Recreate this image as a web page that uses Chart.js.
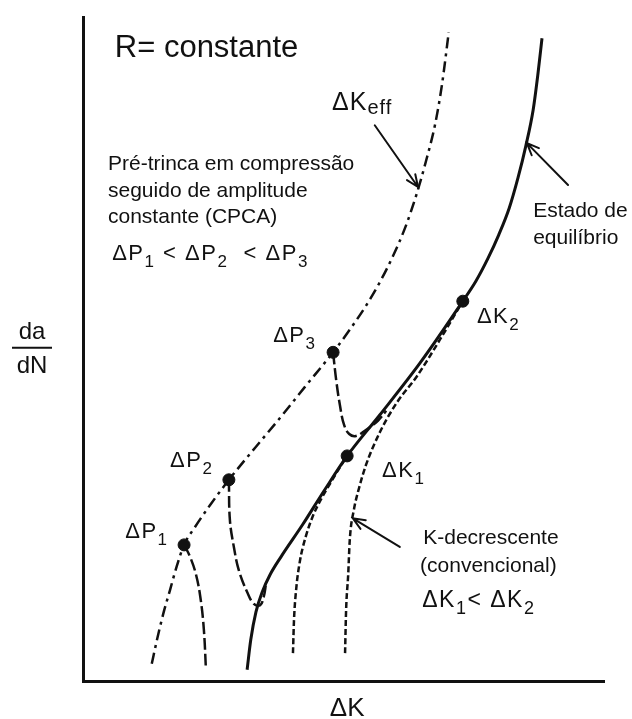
<!DOCTYPE html>
<html>
<head>
<meta charset="utf-8">
<title>da/dN x ΔK</title>
<script src="https://cdn.jsdelivr.net/npm/chart.js@4.4.1/dist/chart.umd.min.js"></script>
<style>
  html, body { margin: 0; padding: 0; background: #fff; }
  #wrap { width: 632px; height: 719px; }
</style>
</head>
<body>
<div id="wrap"><canvas id="crackChart" width="632" height="719"></canvas></div>
<script>
// Curves in schematic units: ΔK and da/dN both run 0..100
const equilibrium = [
  [31.5, 1.7], [32.2, 6.2], [33.2, 10.4], [34.4, 13.4], [35.9, 16.0], [38.0, 18.7],
  [42.2, 23.6], [46.4, 28.8], [50.7, 33.9], [57.0, 40.1], [64.7, 47.9], [72.9, 57.2],
  [75.4, 60.2], [77.7, 63.6], [79.8, 67.2], [81.8, 71.2], [83.5, 75.8], [85.0, 80.6],
  [86.4, 86.0], [87.3, 91.3], [88.1, 96.8]
];
const effective = [
  [13.2, 2.6], [14.2, 6.2], [15.4, 10.1], [16.7, 13.7], [18.0, 17.3], [19.4, 20.5],
  [21.5, 23.2], [24.4, 26.5], [28.0, 30.3], [33.0, 35.1], [37.8, 39.6], [42.6, 44.3],
  [48.0, 49.5], [51.2, 52.9], [54.3, 56.5], [57.0, 60.1], [59.5, 64.0], [61.8, 68.2],
  [63.9, 73.0], [65.8, 78.2], [67.6, 83.9], [68.9, 89.8], [70.2, 97.7]
];
const cpca1 = [[19.4, 20.5], [20.5, 18.8], [21.7, 16.0], [22.6, 12.2], [23.2, 7.7], [23.6, 1.7]];
const cpca2 = [
  [28.0, 30.3], [28.2, 24.2], [29.0, 20.0], [29.9, 16.7], [31.5, 13.4],
  [32.8, 11.6], [34.0, 11.4], [34.7, 12.7], [35.1, 14.5]
];
const cpca3 = [
  [48.0, 49.5], [48.6, 45.3], [49.3, 41.6], [50.1, 38.6], [51.1, 37.2],
  [52.4, 36.9], [54.1, 37.7], [56.6, 39.2], [58.2, 40.7]
];
const kDecreasing1 = [
  [40.3, 4.2], [40.5, 9.2], [40.9, 13.7], [41.6, 17.9], [42.7, 21.6],
  [44.1, 24.8], [45.7, 27.4], [47.4, 29.7], [49.0, 31.8], [50.7, 33.9]
];
const kDecreasing2 = [
  [50.3, 4.2], [50.5, 10.7], [50.9, 16.0], [51.2, 21.2], [52.0, 25.8], [53.0, 29.1],
  [54.3, 32.5], [57.0, 37.5], [60.3, 42.0], [64.1, 45.9], [68.5, 51.4], [72.9, 57.2]
];
// ΔP1, ΔP2, ΔP3, ΔK1, ΔK2
const markers = [[19.4, 20.5], [28.0, 30.3], [48.0, 49.5], [50.7, 33.9], [72.9, 57.2]];

// arrows: [from, to]
const arrows = [
  [[56.0, 83.7], [64.3, 74.4]],
  [[93.1, 74.7], [85.2, 81.0]],
  [[60.8, 20.2], [51.8, 24.5]]
];

const FONT = '"Liberation Sans", Arial, Helvetica, sans-serif';

// each label: anchor (data units, left/baseline), letter spacing, runs of [text, size, drop]
const labels = [
  { at: [6.1, 94.0], sp: 0, runs: [['R= constante', 31, 0]] },
  { at: [47.8, 86.0], sp: 1, runs: [['ΔK', 25, 0], ['eff', 20, 4]] },
  { at: [4.8, 77.0], sp: 0, runs: [['Pré-trinca em compressão', 21, 0]] },
  { at: [4.8, 72.9], sp: 0, runs: [['seguido de amplitude', 21, 0]] },
  { at: [4.8, 69.0], sp: 0, runs: [['constante (CPCA)', 21, 0]] },
  { at: [5.6, 63.4], sp: 1.5, runs: [['ΔP', 22, 0], ['1', 17, 7], [' < ΔP', 22, 0], ['2', 17, 7], ['  < ΔP', 22, 0], ['3', 17, 7]] },
  { at: [36.5, 51.1], sp: 1.5, runs: [['ΔP', 22, 0], ['3', 17, 7]] },
  { at: [16.7, 32.2], sp: 1.5, runs: [['ΔP', 22, 0], ['2', 17, 7]] },
  { at: [8.1, 21.5], sp: 1.5, runs: [['ΔP', 22, 0], ['1', 17, 7]] },
  { at: [57.4, 30.7], sp: 1.5, runs: [['ΔK', 22, 0], ['1', 17, 7]] },
  { at: [75.6, 53.9], sp: 1.5, runs: [['ΔK', 22, 0], ['2', 17, 7]] },
  { at: [86.4, 69.9], sp: 0, runs: [['Estado de', 21, 0]] },
  { at: [86.4, 65.8], sp: 0, runs: [['equilíbrio', 21, 0]] },
  { at: [65.3, 20.6], sp: 0, runs: [['K-decrescente', 21, 0]] },
  { at: [64.7, 16.4], sp: 0, runs: [['(convencional)', 21, 0]] },
  { at: [65.1, 11.1], sp: 1.5, runs: [['ΔK', 23, 0], ['1', 18, 7], ['< ΔK', 23, 0], ['2', 18, 7]] }
];

const toXY = pts => pts.map(([x, y]) => ({ x, y }));
const INK = '#111';

function curve(points, width, dash, mode) {
  return {
    data: toXY(points),
    showLine: true,
    borderColor: INK,
    borderWidth: width,
    borderDash: dash,
    borderCapStyle: 'butt',
    tension: 0.4,
    cubicInterpolationMode: mode || 'default',
    pointRadius: 0,
    fill: false
  };
}

function drawRuns(ctx, runs, x, y, spacing) {
  let cx = x;
  ctx.letterSpacing = spacing + 'px';
  runs.forEach(([text, size, drop]) => {
    ctx.font = size + 'px ' + FONT;
    ctx.fillText(text, cx, y + drop);
    cx += ctx.measureText(text).width;
  });
  ctx.letterSpacing = '0px';
}

const annotations = {
  id: 'annotations',
  afterDraw(chart) {
    const { ctx, chartArea, scales } = chart;
    const px = v => scales.x.getPixelForValue(v);
    const py = v => scales.y.getPixelForValue(v);
    ctx.save();
    ctx.fillStyle = INK;
    ctx.strokeStyle = INK;
    ctx.textBaseline = 'alphabetic';
    ctx.textAlign = 'left';

    labels.forEach(l => drawRuns(ctx, l.runs, px(l.at[0]), py(l.at[1]), l.sp));

    // arrows with open heads
    ctx.lineWidth = 2;
    ctx.lineCap = 'round';
    arrows.forEach(([from, to]) => {
      const x0 = px(from[0]), y0 = py(from[1]);
      const x1 = px(to[0]), y1 = py(to[1]);
      const a = Math.atan2(y1 - y0, x1 - x0);
      ctx.beginPath();
      ctx.moveTo(x0, y0);
      ctx.lineTo(x1, y1);
      ctx.moveTo(x1 - 13 * Math.cos(a - 0.4), y1 - 13 * Math.sin(a - 0.4));
      ctx.lineTo(x1, y1);
      ctx.lineTo(x1 - 13 * Math.cos(a + 0.4), y1 - 13 * Math.sin(a + 0.4));
      ctx.stroke();
    });

    // axis titles
    ctx.textAlign = 'center';
    ctx.font = '26px ' + FONT;
    ctx.fillText('ΔK', px(50.7), chartArea.bottom + 35);

    const fx = chartArea.left - 51;
    const fy = py(50.2);
    ctx.font = '24px ' + FONT;
    ctx.fillText('da', fx, fy - 9);
    ctx.fillText('dN', fx, fy + 25);
    ctx.lineWidth = 2;
    ctx.lineCap = 'butt';
    ctx.beginPath();
    ctx.moveTo(fx - 20, fy);
    ctx.lineTo(fx + 20, fy);
    ctx.stroke();
    ctx.restore();
  }
};

const hiddenAxis = {
  type: 'linear',
  min: 0,
  max: 100,
  grid: { display: false, drawTicks: false, tickLength: 0 },
  ticks: { display: false },
  border: { display: true, color: INK, width: 3 }
};

new Chart(document.getElementById('crackChart'), {
  type: 'scatter',
  data: {
    datasets: [
      {
        data: toXY(markers),
        showLine: false,
        pointRadius: 6,
        pointBackgroundColor: INK,
        pointBorderColor: INK
      },
      curve(equilibrium, 3, [], 'monotone'),
      curve(effective, 2.5, [11, 5, 3, 5], 'monotone'),
      curve(cpca1, 2.5, [12, 4]),
      curve(cpca2, 2.5, [12, 4]),
      curve(cpca3, 2.5, [12, 4]),
      curve(kDecreasing1, 2.5, [6, 3], 'monotone'),
      curve(kDecreasing2, 2.5, [6, 3], 'monotone')
    ]
  },
  options: {
    responsive: false,
    animation: false,
    layout: { padding: { left: 83, right: 28, top: 17, bottom: 38 } },
    plugins: {
      legend: { display: false },
      tooltip: { enabled: false }
    },
    scales: {
      x: { ...hiddenAxis },
      y: { ...hiddenAxis }
    }
  },
  plugins: [annotations]
});
</script>
</body>
</html>
